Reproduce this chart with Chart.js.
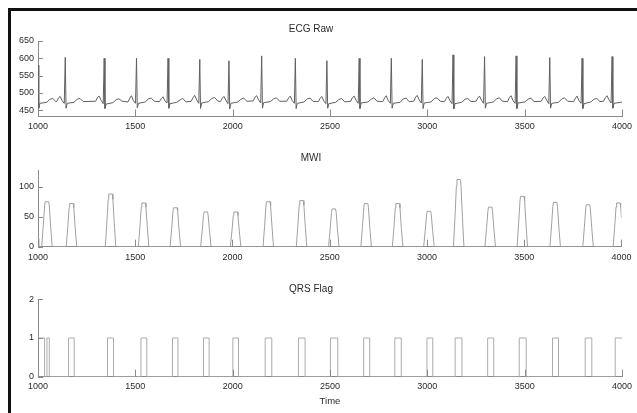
<!DOCTYPE html>
<html><head><meta charset="utf-8">
<script src="https://cdn.jsdelivr.net/npm/chart.js@4/dist/chart.umd.min.js"></script>
<style>
html,body{margin:0;padding:0;background:#fff;}
#wrap{position:relative;width:637px;height:413px;overflow:hidden;background:#fff;}
canvas{position:absolute;left:0;}
#frameTop{position:absolute;left:8px;top:8px;width:629px;height:3px;background:#111;}
#frameLeft{position:absolute;left:8px;top:8px;width:3px;height:405px;background:#111;}
</style></head><body>
<div id="wrap">
<canvas id="c1" width="637" height="135" style="top:0px;width:637px;height:135px"></canvas>
<canvas id="c2" width="637" height="135" style="top:135px;width:637px;height:135px"></canvas>
<canvas id="c3" width="637" height="143" style="top:270px;width:637px;height:143px"></canvas>
<div id="frameTop"></div><div id="frameLeft"></div>
</div>
<script>
// ---------- DATA ----------
const xTicks = [1000, 1500, 2000, 2500, 3000, 3500, 4000];
const ecgYTicks = [450, 500, 550, 600, 650];
const mwiYTicks = [0, 50, 100];
const qrsYTicks = [0, 1, 2];

const ecgTime = [1000,1004,1010,1045,1062,1076,1092,
 1096,1106,1114,1124,1135,1140,1144,1150,1185,1202,1216,1232,
 1296,1306,1314,1324,1335,1340,1344,1350,1385,1402,1416,1432,
 1462,1472,1480,1490,1501,1506,1510,1516,1551,1568,1582,1598,
 1624,1634,1642,1652,1663,1668,1672,1678,1713,1730,1744,1760,
 1787,1797,1805,1815,1826,1831,1835,1841,1876,1893,1907,1923,
 1937,1947,1955,1965,1976,1981,1985,1991,2026,2043,2057,2073,
 2105,2115,2123,2133,2144,2149,2153,2159,2194,2211,2225,2241,
 2278,2288,2296,2306,2317,2322,2326,2332,2367,2384,2398,2414,
 2440,2450,2458,2468,2479,2484,2488,2494,2529,2546,2560,2576,
 2606,2616,2624,2634,2645,2650,2654,2660,2695,2712,2726,2742,
 2771,2781,2789,2799,2810,2815,2819,2825,2860,2877,2891,2907,
 2930,2940,2948,2958,2969,2974,2978,2984,3019,3036,3050,3066,
 3088,3098,3106,3116,3127,3132,3136,3142,3177,3194,3208,3224,
 3250,3260,3268,3278,3289,3294,3298,3304,3339,3356,3370,3386,
 3412,3422,3430,3440,3451,3456,3460,3466,3501,3518,3532,3548,
 3585,3595,3603,3613,3624,3629,3633,3639,3674,3691,3705,3721,
 3751,3761,3769,3779,3790,3795,3799,3805,3840,3857,3871,3887,
 3905,3915,3923,3933,3944,3949,3953,3959,3994,4000];
const ecgValue = [580,456,470,473,482,484,475,
 475,486,490,478,470,603,456,470,473,482,484,475,
 476,487,491,479,469,600,455,468,472,481,483,476,
 474,485,492,478,470,600,457,470,474,483,485,476,
 475,484,489,477,471,600,456,469,473,480,484,474,
 476,487,493,480,470,597,455,471,475,484,487,477,
 475,485,490,479,469,593,454,470,474,482,485,476,
 477,488,492,480,471,607,456,472,475,483,486,476,
 476,486,491,478,470,600,455,470,474,483,485,475,
 475,485,490,477,469,593,456,469,473,481,484,474,
 476,487,491,479,470,600,455,471,474,482,486,476,
 475,486,492,478,470,600,456,470,473,483,485,475,
 476,488,493,480,471,597,455,471,474,484,486,476,
 475,485,490,478,469,610,454,469,473,482,484,475,
 476,486,491,479,470,605,456,470,474,483,486,476,
 475,487,492,478,470,607,455,471,474,482,485,475,
 476,486,490,479,469,602,456,470,473,483,486,476,
 475,485,491,478,470,600,455,469,474,482,484,475,
 476,487,492,480,471,605,456,470,473,474];

const mwiTime = [1000,1004,
 1019,1027,1034,1037,1055,1058,1065,1073,
 1145,1153,1160,1163,1181,1184,1191,1199,
 1346,1354,1361,1364,1382,1385,1392,1400,
 1516,1524,1531,1534,1552,1555,1562,1570,
 1679,1687,1694,1697,1715,1718,1725,1733,
 1836,1844,1851,1854,1872,1875,1882,1890,
 1989,1997,2004,2007,2025,2028,2035,2043,
 2157,2165,2172,2175,2193,2196,2203,2211,
 2328,2336,2343,2346,2364,2367,2374,2382,
 2494,2502,2509,2512,2530,2533,2540,2548,
 2660,2668,2675,2678,2696,2699,2706,2714,
 2822,2830,2837,2840,2858,2861,2868,2876,
 2983,2991,2998,3001,3019,3022,3029,3037,
 3136,3144,3151,3154,3172,3175,3182,3190,
 3298,3306,3313,3316,3334,3337,3344,3352,
 3463,3471,3478,3481,3499,3502,3509,3517,
 3632,3640,3647,3650,3668,3671,3678,3686,
 3801,3809,3816,3819,3837,3840,3847,3855,
 3957,3965,3972,3975,3993,3996,4000];
const mwiValue = [14,0,
 0,34,68,75,75,68,34,0,
 0,32,65,72,72,65,32,0,
 0,40,79,88,88,79,40,0,
 0,33,66,73,73,66,33,0,
 0,29,59,65,65,59,29,0,
 0,26,52,58,58,52,26,0,
 0,26,52,58,58,52,26,0,
 0,34,68,75,75,68,34,0,
 0,35,69,77,77,69,35,0,
 0,28,57,63,63,57,28,0,
 0,32,65,72,72,65,32,0,
 0,32,65,72,72,65,32,0,
 0,27,53,59,59,53,27,0,
 0,50,101,112,112,101,50,0,
 0,30,59,66,66,59,30,0,
 0,38,76,84,84,76,38,0,
 0,33,67,74,74,67,33,0,
 0,32,63,70,70,63,32,0,
 0,33,66,73,73,66,48];

const qrsTime = [1000,1034,1046,1058,1157,1186,1357,1388,1529,1559,1691,1719,1850,1879,
 2001,2030,2167,2201,2338,2372,2502,2540,2673,2704,2833,2866,2998,3028,3143,3178,
 3310,3341,3472,3508,3643,3674,3811,3845,3965,4000];
const qrsFlag = [1,0,1,0,1,0,1,0,1,0,1,0,1,0,
 1,0,1,0,1,0,1,0,1,0,1,0,1,0,1,0,
 1,0,1,0,1,0,1,0,1,1];

// ---------- STYLE ----------
const FONT = "'Liberation Sans Narrow','Arial Narrow','Liberation Sans',Arial,sans-serif";
const AXIS = '#8a8a8a';
const TEXT = '#2a2a2a';

const inwardTicks = {
  id: 'inwardTicks',
  afterDatasetsDraw(chart) {
    const {ctx, chartArea, scales} = chart;
    const x = scales.x, y = scales.y;
    ctx.save();
    ctx.strokeStyle = AXIS; ctx.lineWidth = 1;
    ctx.beginPath();
    x.ticks.forEach(t => {
      const px = Math.round(x.getPixelForValue(t.value)) + 0.5;
      ctx.moveTo(px, chartArea.bottom); ctx.lineTo(px, chartArea.bottom - 7);
    });
    y.ticks.forEach(t => {
      const py = Math.round(y.getPixelForValue(t.value)) + 0.5;
      ctx.moveTo(chartArea.left, py); ctx.lineTo(chartArea.left + 5, py);
    });
    ctx.stroke();
    ctx.restore();
  }
};

function pts(xs, ys) { return xs.map((v, i) => ({x: v, y: ys[i]})); }

function makeChart(id, cfg) {
  return new Chart(document.getElementById(id), {
    type: 'line',
    data: { datasets: [{
      data: pts(cfg.xs, cfg.ys),
      borderColor: cfg.color, borderWidth: 1, pointRadius: 0, tension: 0,
      stepped: cfg.stepped || false, fill: false
    }]},
    options: {
      responsive: false, animation: false, devicePixelRatio: 1,
      layout: { padding: { left: 0, right: 15, top: 0, bottom: 0 } },
      plugins: {
        legend: { display: false }, tooltip: { enabled: false },
        title: { display: true, text: cfg.title, color: TEXT,
          font: { family: FONT, size: 10, weight: 'normal' },
          padding: { top: cfg.titleTop, bottom: cfg.titleBottom } }
      },
      scales: {
        x: {
          type: 'linear', min: 1000, max: 4000,
          afterBuildTicks: s => { s.ticks = xTicks.map(v => ({value: v})); },
          afterFit: s => { s.height = cfg.xHeight; },
          grid: { display: false, drawTicks: false },
          border: { display: true, color: AXIS, width: 1 },
          ticks: { color: TEXT, padding: cfg.xPad, maxRotation: 0, autoSkip: false,
            font: { family: FONT, size: 9 }, callback: v => String(v) },
          title: cfg.xTitle ? { display: true, text: cfg.xTitle, color: TEXT,
            font: { family: FONT, size: 9.5 }, padding: { top: 0, bottom: cfg.xTitleBottom } } : { display: false }
        },
        y: {
          type: 'linear', min: cfg.yMin, max: cfg.yMax,
          afterBuildTicks: s => { s.ticks = cfg.yTicks.map(v => ({value: v})); },
          afterFit: s => { s.width = 38; },
          grid: { display: false, drawTicks: false },
          border: { display: true, color: AXIS, width: 1 },
          ticks: { color: TEXT, padding: 4, font: { family: FONT, size: 9 }, callback: v => String(v) }
        }
      }
    },
    plugins: [inwardTicks]
  });
}

makeChart('c1', { xs: ecgTime, ys: ecgValue, color: '#606060', title: 'ECG Raw',
  titleTop: 23, titleBottom: 6, xHeight: 18.5, xPad: 4.5,
  yMin: 432, yMax: 650, yTicks: ecgYTicks });
makeChart('c2', { xs: mwiTime, ys: mwiValue, color: '#a0a0a0', title: 'MWI',
  titleTop: 17.3, titleBottom: 5.7, xHeight: 23.3, xPad: 5.5,
  yMin: 0, yMax: 128, yTicks: mwiYTicks });
makeChart('c3', { xs: qrsTime, ys: qrsFlag, color: '#ababab', title: 'QRS Flag', stepped: true,
  titleTop: 13, titleBottom: 4.3, xHeight: 36.3, xPad: 4.5, xTitle: 'Time', xTitleBottom: 5.5,
  yMin: 0, yMax: 2, yTicks: qrsYTicks });
</script>
</body></html>
